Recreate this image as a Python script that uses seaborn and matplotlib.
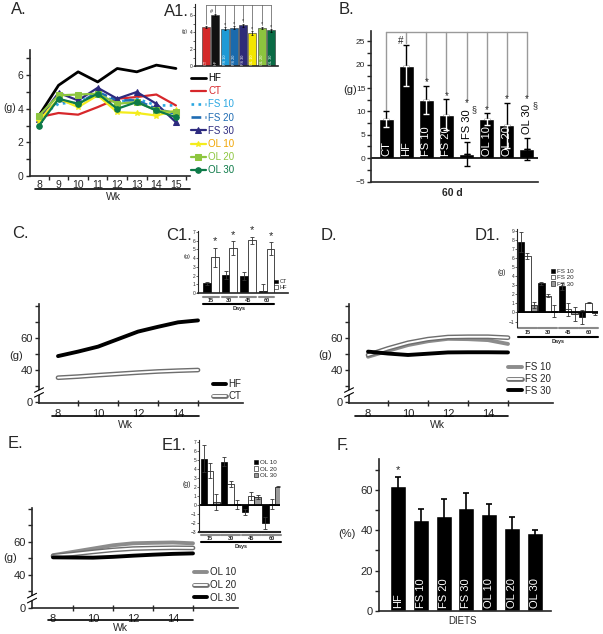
import numpy as np
import pandas as pd
import matplotlib
matplotlib.use('Agg')
import matplotlib.pyplot as plt
import matplotlib.transforms as mtransforms
from matplotlib.lines import Line2D
from matplotlib.patches import Patch
import seaborn as sns

sns.set_style('ticks')
plt.rcParams['font.family'] = ['Liberation Sans', 'DejaVu Sans']
plt.rcParams['axes.linewidth'] = 1.2
plt.rcParams['xtick.major.width'] = 1.0
plt.rcParams['ytick.major.width'] = 1.0
plt.rcParams['xtick.minor.width'] = 1.0
plt.rcParams['ytick.minor.width'] = 1.0

# ---------------- data ----------------
weeks = [8, 9, 10, 11, 12, 13, 14, 15]

# A: weekly food intake (g)
a_names = ['HF', 'CT', 'FS 10', 'FS 20', 'FS 30', 'OL 10', 'OL 20', 'OL 30']
a_hf = [3.6, 5.4, 6.2, 5.6, 6.4, 6.2, 6.6, 6.4]
a_ct = [3.5, 3.75, 3.65, 4.1, 4.6, 4.7, 4.85, 4.2]
a_fs10 = [3.5, 4.3, 4.4, 4.9, 4.4, 4.6, 4.2, 4.2]
a_fs20 = [3.4, 4.5, 4.3, 5.0, 4.5, 4.5, 4.0, 3.7]
a_fs30 = [3.4, 4.95, 4.5, 5.25, 4.6, 5.0, 4.3, 3.2]
a_ol10 = [3.3, 4.6, 4.1, 4.8, 3.8, 3.75, 3.6, 3.9]
a_ol20 = [3.6, 4.8, 4.85, 4.9, 4.3, 4.4, 3.9, 3.8]
a_ol30 = [3.0, 4.6, 4.3, 4.9, 4.0, 4.4, 3.9, 3.5]

# A1: mean intake
a1_groups = ['CT', 'HF', 'FS 10', 'FS 20', 'FS 30', 'OL 10', 'OL 20', 'OL 30']
a1_mean = [4.6, 6.0, 4.4, 4.5, 4.8, 3.9, 4.5, 4.2]
a1_err = [0.15, 0.1, 0.15, 0.2, 0.2, 0.2, 0.15, 0.15]

# B: weight gain at 60 d
b_groups = ['CT', 'HF', 'FS 10', 'FS 20', 'FS 30', 'OL 10', 'OL 20', 'OL 30']
b_mean = [8.3, 19.8, 12.5, 9.3, 0.9, 8.3, 7.0, 2.0]
b_err = [1.7, 4.4, 3.0, 3.3, 2.5, 1.3, 4.9, 2.3]

# C
c_hf = [48.7, 51.5, 54.6, 59.3, 64.0, 67.0, 69.8, 71.0]
c_ct = [35.2, 35.9, 36.8, 37.6, 38.4, 39.1, 39.6, 40.0]

# C1
days = ['15', '30', '45', '60']
c1_ct = [1.1, 2.1, 1.9, 0.2]
c1_ct_err = [0.15, 0.45, 0.45, 0.8]
c1_hf = [4.1, 5.1, 6.05, 5.05]
c1_hf_err = [1.1, 0.8, 0.4, 0.75]

# D
d_fs10 = [48.3, 52.0, 55.6, 58.0, 59.5, 59.3, 58.7, 56.3]
d_fs20 = [49.4, 53.5, 57.0, 59.3, 60.6, 60.8, 60.8, 60.2]
d_fs30 = [51.5, 50.3, 49.4, 50.2, 51.0, 51.1, 51.1, 51.0]

# D1
d1_fs10 = [7.8, 3.2, 2.9, -0.5]
d1_fs10_err = [1.1, 0.2, 0.4, 0.8]
d1_fs20 = [6.2, 1.85, 0.35, 1.1]
d1_fs20_err = [0.35, 0.15, 0.75, 0.05]
d1_fs30 = [0.8, 0.2, -0.2, -0.1]
d1_fs30_err = [0.35, 0.65, 0.75, 0.15]

# E
e_ol10 = [52.0, 54.0, 56.0, 58.0, 59.2, 59.5, 59.7, 59.2]
e_ol20 = [51.5, 52.7, 54.0, 55.2, 56.0, 56.3, 56.5, 56.4]
e_ol30 = [50.7, 50.6, 50.5, 51.0, 51.7, 52.3, 52.8, 53.1]

# E1
e1_ol10 = [5.1, 4.8, -0.8, -2.0]
e1_ol10_err = [1.5, 0.5, 0.35, 0.65]
e1_ol20 = [3.8, 2.3, 1.0, 0.1]
e1_ol20_err = [0.8, 0.35, 0.4, 0.6]
e1_ol30 = [0.3, 0.1, 0.9, 2.0]
e1_ol30_err = [0.9, 0.5, 0.2, 0.05]

# F
f_groups = ['HF', 'FS 10', 'FS 20', 'FS 30', 'OL 10', 'OL 20', 'OL 30']
f_mean = [62, 45, 47, 51, 48, 41, 38.5]
f_err = [4.5, 5.5, 8.5, 7.3, 5.0, 5.5, 1.5]

# ---------------- helpers ----------------
W, H = 603, 634
fig = plt.figure(figsize=(W / 100, H / 100), dpi=100)


def px_axes(l, t, r, b):
    ax = fig.add_axes([l / W, 1 - b / H, (r - l) / W, (b - t) / H])
    ax.set_facecolor('none')
    return ax


def ftext(x, y, s, **kw):
    kw.setdefault('ha', 'center')
    kw.setdefault('va', 'center')
    fig.text(x / W, 1 - y / H, s, **kw)


def fline(x0, x1, y, **kw):
    fig.add_artist(Line2D([x0 / W, x1 / W], [1 - y / H] * 2,
                          transform=fig.transFigure, **kw))


def dline(ax, x0, x1, y, **kw):
    tr = mtransforms.blended_transform_factory(ax.transData, fig.transFigure)
    ax.plot([x0, x1], [1 - y / H] * 2, transform=tr, clip_on=False, **kw)


def dtext(ax, x, y, s, **kw):
    tr = mtransforms.blended_transform_factory(ax.transData, fig.transFigure)
    ax.text(x, 1 - y / H, s, transform=tr, ha='center', va='center', **kw)


def y_break(ax, y0, y1):
    tr = ax.get_yaxis_transform()
    ax.plot([0, 0], [y0, y1], color='white', lw=3, transform=tr,
            clip_on=False, zorder=6, solid_capstyle='butt')
    for yy in (y0, y1):
        ax.plot([-0.022, 0.022], [yy - 1.4, yy + 1.4], color='black', lw=0.8,
                transform=tr, clip_on=False, zorder=7)


def bar_centers(ax):
    return sorted(p.get_x() + p.get_width() / 2 for p in ax.patches)


def double_line(ax, y, lw=3.4):
    sns.lineplot(x=weeks, y=y, color='#6e6e6e', lw=lw, ax=ax)
    sns.lineplot(x=weeks, y=y, color='white', lw=lw * 0.4, ax=ax)


def weight_axes(ax, xlim, ylim):
    ax.set_xlim(*xlim)
    ax.set_ylim(*ylim)
    ax.set_yticks([20, 40, 60])
    ax.set_yticklabels(['0', '40', '60'])
    ax.set_yticks([30, 50, 70, 80], minor=True)
    ax.set_xticks([8, 10, 12, 14])
    ax.set_xticks([9, 11, 13, 15], minor=True)
    ax.tick_params(axis='x', which='major', length=0, labelsize=8, pad=4)
    ax.tick_params(axis='x', which='minor', length=4, direction='inout')
    ax.tick_params(axis='y', which='both', length=3, labelsize=8, pad=1.5)
    ax.set_xlabel('')
    ax.set_ylabel('')
    sns.despine(ax=ax)
    y_break(ax, 24.5, 27.5)


def group_inset(ax, series, errs, colors, names, width, xlim, ylim, yticks,
                seg_y, lab_y, days_y, days_txt_y, legend_xy, leg_fs=4.5):
    n = len(series)
    df = pd.DataFrame({'day': days * n,
                       'g': sum(series, []),
                       'diet': sum([[nm] * len(days) for nm in names], [])})
    sns.barplot(data=df, x='day', y='g', hue='diet', hue_order=names,
                palette=dict(zip(names, colors)), saturation=1, width=width,
                edgecolor='black', linewidth=0.5, errorbar=None, legend=False, ax=ax)
    for cont, vals, ee in zip(ax.containers, series, errs):
        xs = [b.get_x() + b.get_width() / 2 for b in cont]
        ax.errorbar(xs, vals, yerr=ee, fmt='none', ecolor='#333333',
                    elinewidth=0.6, capsize=1.2, capthick=0.6)
    ax.set_xlim(*xlim)
    ax.set_ylim(*ylim)
    ax.set_yticks(yticks)
    ax.set_xticks([])
    ax.set_xlabel('')
    ax.set_ylabel('')
    ax.tick_params(axis='y', length=1.5, width=0.5, labelsize=3.5, pad=0.5)
    ax.spines['left'].set_linewidth(0.8)
    sns.despine(ax=ax)
    for i, d in enumerate(days):
        dline(ax, i - width / 2, i + width / 2, seg_y, color='#8a8a8a', lw=1.5)
        dtext(ax, i, lab_y, d, fontsize=4, fontweight='bold')
    dline(ax, -width / 2, len(days) - 1 + width / 2, days_y, color='black', lw=1.5)
    dtext(ax, (len(days) - 1) / 2, days_txt_y, 'Days', fontsize=4, fontweight='bold')
    handles = [Patch(facecolor=c, edgecolor='black', lw=0.4) for c in colors]
    ax.legend(handles, names, loc='upper left',
              bbox_to_anchor=(legend_xy[0] / W, 1 - legend_xy[1] / H),
              bbox_transform=fig.transFigure, frameon=False, fontsize=leg_fs,
              handlelength=0.7, handleheight=0.7, handletextpad=0.3,
              labelspacing=0.15, borderpad=0, borderaxespad=0)


# ---------------- A ----------------
axA = px_axes(30, 50, 190, 176)
a_series = [a_hf, a_ct, a_fs10, a_fs20, a_fs30, a_ol10, a_ol20, a_ol30]
a_colors = ['black', '#d7272b', '#2aa7e1', '#1f6cb3', '#2d2a7f', '#f4ec1c', '#8dc63f', '#0d7a48']
a_txt = ['black', '#d7272b', '#2aa7e1', '#1f6cb3', '#2d2a7f', '#f0a400', '#8dc63f', '#0d7a48']
a_ls = ['-', '-', ':', '--', '-', '-', '-', '-']
a_mk = [None, None, None, None, '^', '*', 's', 'o']
a_lw = [2.0, 1.6, 1.9, 1.9, 1.6, 1.6, 1.6, 1.6]
for name, vals, c, ls, mk, lw in zip(a_names, a_series, a_colors, a_ls, a_mk, a_lw):
    sns.lineplot(x=weeks, y=vals, ax=axA, color=c, linestyle=ls, marker=mk, lw=lw,
                 markersize=4, markeredgecolor=c, label=name)
axA.set_xlim(7.54, 15.72)
axA.set_ylim(0, 7.5)
axA.set_xticks(weeks)
axA.set_xticks(np.arange(8.5, 16, 1), minor=True)
axA.set_yticks([0, 2, 4, 6])
axA.set_yticks([1, 3, 5, 7], minor=True)
axA.tick_params(axis='x', which='major', length=0, labelsize=7.5, pad=3)
axA.tick_params(axis='x', which='minor', length=3)
axA.tick_params(axis='y', which='both', length=3, labelsize=7.5, pad=1.5)
axA.set_xlabel('')
axA.set_ylabel('')
sns.despine(ax=axA)
leg = axA.legend(loc='upper left', bbox_to_anchor=(191 / W, 1 - 73 / H),
                 bbox_transform=fig.transFigure, frameon=False, fontsize=7,
                 handlelength=1.5, handletextpad=0.3, labelspacing=0.33,
                 borderpad=0, borderaxespad=0)
for t, c in zip(leg.get_texts(), a_txt):
    t.set_color(c)
fline(35, 190, 189, color='black', lw=1.2)
ftext(113, 197, 'Wk', fontsize=7.5)
ftext(10, 108, '(g)', fontsize=7.5)

# ---------------- A1 ----------------
axA1 = px_axes(195, 4, 278, 66)
a1_colors = ['#d42a2a', '#111111', '#1e9ad6', '#1a6aac', '#2e2b78', '#f3e600', '#8cc43f', '#0a6b45']
sns.barplot(x=a1_groups, y=a1_mean, hue=a1_groups, palette=a1_colors, legend=False,
            saturation=1, width=0.85, edgecolor='#333333', linewidth=0.4,
            errorbar=None, ax=axA1)
xs = bar_centers(axA1)
axA1.errorbar(xs, a1_mean, yerr=a1_err, fmt='none', ecolor='black',
              elinewidth=0.5, capsize=1, capthick=0.5)
top = 7.15
axA1.plot([xs[0], xs[-1]], [top, top], color='#555555', lw=0.5, clip_on=False)
for i, (x, m, e, g) in enumerate(zip(xs, a1_mean, a1_err, a1_groups)):
    axA1.plot([x, x], [top, m + e + 0.15], color='#555555', lw=0.5, clip_on=False)
    axA1.text(x, 0.15, g, rotation=90, color='white', fontsize=2.8,
              ha='center', va='bottom')
    if i >= 2:
        axA1.text(x, m + e + 0.35, '*', fontsize=4, ha='center', va='center')
axA1.text(xs[1] - 0.45, 6.45, '#', fontsize=4, ha='center', va='center')
axA1.set_xlim(-1.18, 7.75)
axA1.set_ylim(0, 7.3)
axA1.set_yticks([0, 2, 4, 6])
axA1.set_yticks([1, 3, 5, 7], minor=True)
axA1.set_xticks([])
axA1.set_xlabel('')
axA1.set_ylabel('')
axA1.tick_params(axis='y', which='both', length=1.5, width=0.5, labelsize=3.5, pad=0.5)
axA1.spines['left'].set_linewidth(0.8)
sns.despine(ax=axA1)
ftext(185, 32, '(g)', fontsize=3.5)

# ---------------- B ----------------
axB = px_axes(371, 31, 538, 182)
sns.barplot(x=b_groups, y=b_mean, color='black', saturation=1, width=0.74,
            errorbar=None, ax=axB)
xs = bar_centers(axB)
for x, m, e in zip(xs, b_mean, b_err):
    axB.errorbar([x], [m], yerr=[[0], [e]], fmt='none', ecolor='black',
                 elinewidth=1.0, capsize=2.5, capthick=1.0, zorder=4)
    lc = 'white' if m - e > 0 else 'black'
    axB.errorbar([x], [m], yerr=[[e], [0]], fmt='none', ecolor=lc,
                 elinewidth=1.0, capsize=2.5, capthick=1.0, zorder=4)
axB.axhline(0, color='black', lw=1.2)
gray = '#9a9a9a'
btop = 26.9
axB.plot([xs[0], xs[-1]], [btop, btop], color=gray, lw=1, clip_on=False)
for i, (x, m, e, g) in enumerate(zip(xs, b_mean, b_err, b_groups)):
    etop = m + e
    if i == 0:
        axB.plot([x, x], [btop, etop + 0.2], color=gray, lw=1, clip_on=False)
        axB.text(x, 0.5, g, rotation=90, color='white', fontsize=8, ha='center', va='bottom')
    elif i == 1:
        axB.plot([x, x], [btop, etop + 0.4], color=gray, lw=1, clip_on=False)
        axB.text(x - 0.3, etop + 0.9, '#', fontsize=7, ha='center', va='center')
        axB.text(x, 0.5, g, rotation=90, color='white', fontsize=8, ha='center', va='bottom')
    elif m - e > 0:
        axB.plot([x, x], [btop, etop + 1.3], color=gray, lw=1, clip_on=False)
        axB.text(x, etop + 0.7, '*', fontsize=7, ha='center', va='center')
        axB.text(x, 0.5, g, rotation=90, color='white', fontsize=8, ha='center', va='bottom')
    else:
        base = etop + 0.8
        axB.text(x, base, g, rotation=90, color='black', fontsize=8, ha='center', va='bottom')
        axB.text(x, base + 7.6, '*', fontsize=7, ha='center', va='center')
        axB.text(x + 0.38, base + 6.2, '§', fontsize=6.5, ha='center', va='center')
        axB.plot([x, x], [btop, base + 8.3], color=gray, lw=1, clip_on=False)
axB.set_xlim(-0.75, 7.55)
axB.set_ylim(-5.1, 27.2)
axB.set_yticks(np.arange(-5, 30, 5))
axB.set_yticks(np.arange(-2.5, 27.5, 5), minor=True)
axB.set_xticks([])
axB.set_xlabel('')
axB.set_ylabel('')
axB.tick_params(axis='y', which='both', length=3, labelsize=6, pad=1)
sns.despine(ax=axB)
ftext(350, 90, '(g)', fontsize=8)
ftext(452, 193, '60 d', fontsize=7.5, fontweight='bold')

# ---------------- C ----------------
axC = px_axes(39, 304, 243, 403)
sns.lineplot(x=weeks, y=c_hf, color='black', lw=2.8, ax=axC)
double_line(axC, c_ct)
weight_axes(axC, (7.05, 17.25), (19.4, 81.25))
hC = [Line2D([], [], color='black', lw=2.8),
      (Line2D([], [], color='#6e6e6e', lw=3.4), Line2D([], [], color='white', lw=1.36))]
axC.legend(hC, ['HF', 'CT'], loc='upper left', bbox_to_anchor=(213 / W, 1 - 379 / H),
           bbox_transform=fig.transFigure, frameon=False, fontsize=7,
           handlelength=1.3, handletextpad=0.3, labelspacing=0.2,
           borderpad=0, borderaxespad=0)
fline(52, 199, 416, color='black', lw=1.2)
ftext(125, 425, 'Wk', fontsize=7.5)
ftext(16, 356, '(g)', fontsize=8)

# ---------------- C1 ----------------
axC1 = px_axes(198, 231, 288, 293)
group_inset(axC1, [c1_ct, c1_hf], [c1_ct_err, c1_hf_err], ['black', 'white'],
            ['CT', 'HF'], 0.86, (-0.7, 4.16), (0, 7.1), range(0, 8),
            297, 300.5, 304, 308.5, (274, 279.5), leg_fs=4)
xs_hf = [b.get_x() + b.get_width() / 2 for b in axC1.containers[1]]
for x, m, e in zip(xs_hf, c1_hf, c1_hf_err):
    axC1.text(x, m + e + 0.75, '*', fontsize=8, ha='center', va='center')
ftext(187, 257, '(g)', fontsize=4)

# ---------------- D ----------------
axD = px_axes(349, 304, 553, 403)
sns.lineplot(x=weeks, y=d_fs10, color='#8c8c8c', lw=2.8, ax=axD)
double_line(axD, d_fs20)
sns.lineplot(x=weeks, y=d_fs30, color='black', lw=2.8, ax=axD)
weight_axes(axD, (7.05, 17.25), (19.4, 81.25))
hD = [Line2D([], [], color='#8c8c8c', lw=2.8),
      (Line2D([], [], color='#6e6e6e', lw=3.4), Line2D([], [], color='white', lw=1.36)),
      Line2D([], [], color='black', lw=2.8)]
axD.legend(hD, ['FS 10', 'FS 20', 'FS 30'], loc='upper left',
           bbox_to_anchor=(508 / W, 1 - 362 / H), bbox_transform=fig.transFigure,
           frameon=False, fontsize=7, handlelength=1.45, handletextpad=0.3,
           labelspacing=0.2, borderpad=0, borderaxespad=0)
fline(355, 508, 416, color='black', lw=1.2)
ftext(437, 425, 'Wk', fontsize=7.5)
ftext(325, 355, '(g)', fontsize=8)

# ---------------- D1 ----------------
axD1 = px_axes(517, 229, 598, 327)
group_inset(axD1, [d1_fs10, d1_fs20, d1_fs30],
            [d1_fs10_err, d1_fs20_err, d1_fs30_err], ['black', 'white', '#999999'],
            ['FS 10', 'FS 20', 'FS 30'], 0.93, (-0.51, 3.46), (-1.6, 9.2), range(-1, 10),
            328, 332.5, 337, 341.5, (551, 268.5))
axD1.axhline(0, color='black', lw=1.3)
axD1.spines['bottom'].set_visible(False)
ftext(502, 272, '(g)', fontsize=5)

# ---------------- E ----------------
axE = px_axes(32, 508, 238, 608)
sns.lineplot(x=weeks, y=e_ol10, color='#8c8c8c', lw=2.8, ax=axE)
double_line(axE, e_ol20)
sns.lineplot(x=weeks, y=e_ol30, color='black', lw=2.8, ax=axE)
weight_axes(axE, (6.95, 17.25), (20, 80.6))
hE = [Line2D([], [], color='#8c8c8c', lw=2.8),
      (Line2D([], [], color='#6e6e6e', lw=3.4), Line2D([], [], color='white', lw=1.36)),
      Line2D([], [], color='black', lw=2.8)]
axE.legend(hE, ['OL 10', 'OL 20', 'OL 30'], loc='upper left',
           bbox_to_anchor=(194 / W, 1 - 567 / H), bbox_transform=fig.transFigure,
           frameon=False, fontsize=7, handlelength=1.35, handletextpad=0.3,
           labelspacing=0.3, borderpad=0, borderaxespad=0)
fline(48, 193, 620, color='black', lw=1.2)
ftext(120, 628, 'Wk', fontsize=7.5)
ftext(10, 558, '(g)', fontsize=8)

# ---------------- E1 ----------------
axE1 = px_axes(199, 440, 280, 532)
group_inset(axE1, [e1_ol10, e1_ol20, e1_ol30],
            [e1_ol10_err, e1_ol20_err, e1_ol30_err], ['black', 'white', '#999999'],
            ['OL 10', 'OL 20', 'OL 30'], 0.93, (-0.54, 3.4), (-2.85, 7.2), range(-3, 8),
            535, 538.7, 542.3, 546.7, (254, 460))
axE1.axhline(0, color='black', lw=1.3)
axE1.spines['bottom'].set_linewidth(1.5)
ftext(187, 485, '(g)', fontsize=5)

# ---------------- F ----------------
axF = px_axes(379, 459, 551, 611)
sns.barplot(x=f_groups, y=f_mean, color='black', saturation=1, width=0.7,
            errorbar=None, ax=axF)
xs = bar_centers(axF)
axF.errorbar(xs, f_mean, yerr=f_err, fmt='none', ecolor='black',
             elinewidth=1.2, capsize=2.5, capthick=1.2)
for x, g in zip(xs, f_groups):
    axF.text(x, 1.5, g, rotation=90, color='white', fontsize=8, ha='center', va='bottom')
axF.text(xs[0], f_mean[0] + f_err[0] + 3, '*', fontsize=8, ha='center', va='center')
axF.set_xlim(-0.83, 6.7)
axF.set_ylim(0, 75.2)
axF.set_yticks([0, 20, 40, 60])
axF.set_yticks([10, 30, 50, 70], minor=True)
axF.set_xticks([])
axF.set_xlabel('')
axF.set_ylabel('')
axF.tick_params(axis='y', which='both', length=3, labelsize=8, pad=1.5)
sns.despine(ax=axF)
ftext(347, 534, '(%)', fontsize=8)
ftext(463, 621, 'DIETS', fontsize=7)

# ---------------- panel letters ----------------
lab = dict(fontsize=12, ha='left')
ftext(11, 10, 'A.', **lab)
ftext(164, 12, 'A1.', **lab)
ftext(339, 10, 'B.', **lab)
ftext(12, 234, 'C.', **lab)
ftext(166, 235, 'C1.', **lab)
ftext(321, 235, 'D.', **lab)
ftext(475, 235, 'D1.', **lab)
ftext(8, 444, 'E.', **lab)
ftext(162, 445, 'E1.', **lab)
ftext(337, 445, 'F.', **lab)

fig.savefig('out.png', dpi=100)
